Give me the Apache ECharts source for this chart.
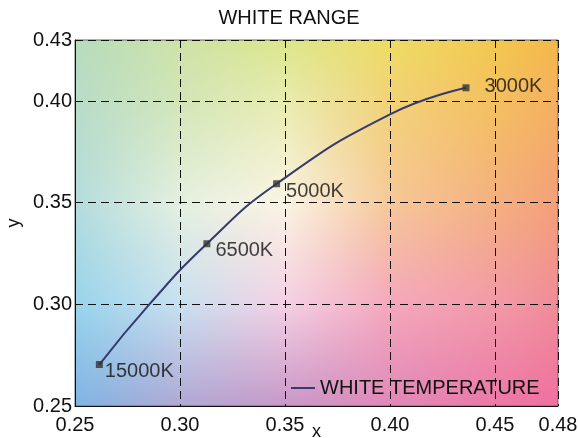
<!DOCTYPE html>
<html>
<head>
<meta charset="utf-8">
<script src="https://cdn.jsdelivr.net/npm/echarts@6/dist/echarts.min.js"></script>
<style>
  html, body { margin: 0; padding: 0; background: #fff; }
  #chart { width: 578px; height: 438px; }
</style>
</head>
<body>
<div id="chart"></div>
<script>
// named temperature points (x, y chromaticity)
const tempNames = ['15000K', '6500K', '5000K', '3000K'];
const tempX = [0.2616, 0.3128, 0.3460, 0.4362];
const tempY = [0.2704, 0.3298, 0.3593, 0.4065];

// points along the white temperature curve
const curveX = [0.2616, 0.2854, 0.3128, 0.3460, 0.4000, 0.4362];
const curveY = [0.2704, 0.3000, 0.3298, 0.3593, 0.3934, 0.4065];

const xMin = 0.25, xMax = 0.48, yMin = 0.25, yMax = 0.43;

// background colour samples (rows = y from top, cols = x)
const bgXs = [0.25, 0.30, 0.35, 0.40, 0.45, 0.48];
const bgYs = [0.43, 0.40, 0.35, 0.30, 0.25];
const bgColors = [
  ['#b6dcbc', '#cde3a8', '#dce68c', '#eedc64', '#f2c850', '#f4b848'],
  ['#b8dcc8', '#d2e6b8', '#e8ecb0', '#f2d278', '#f4c060', '#f4b060'],
  ['#b4dcdc', '#e4f0e0', '#fbf4e4', '#f6c898', '#f4b080', '#f4a078'],
  ['#98d4ec', '#c8e0f0', '#f4d0e4', '#f4a8bc', '#f29aa8', '#f08c98'],
  ['#80b4e4', '#b0a8d4', '#c898c8', '#e088b8', '#ec78a8', '#f070a0']
];

const gridBox = { left: 75, top: 40, width: 483, height: 366 };

function hexRgb(h) {
  return [parseInt(h.substr(1, 2), 16), parseInt(h.substr(3, 2), 16), parseInt(h.substr(5, 2), 16)];
}

// bilinear blend of the colour samples, painted to a canvas for the plot background
function makeBackground() {
  const w = gridBox.width, h = gridBox.height;
  const cv = document.createElement('canvas');
  cv.width = w; cv.height = h;
  const ctx = cv.getContext('2d');
  const img = ctx.createImageData(w, h);
  const rgb = bgColors.map(r => r.map(hexRgb));
  for (let py = 0; py < h; py++) {
    const y = yMax - (py + 0.5) / h * (yMax - yMin);
    let j = 0;
    while (j < bgYs.length - 2 && y < bgYs[j + 1]) j++;
    const ty = (bgYs[j] - y) / (bgYs[j] - bgYs[j + 1]);
    for (let px = 0; px < w; px++) {
      const x = xMin + (px + 0.5) / w * (xMax - xMin);
      let i = 0;
      while (i < bgXs.length - 2 && x > bgXs[i + 1]) i++;
      const tx = (x - bgXs[i]) / (bgXs[i + 1] - bgXs[i]);
      const k = (py * w + px) * 4;
      for (let c = 0; c < 3; c++) {
        const a = rgb[j][i][c] * (1 - tx) + rgb[j][i + 1][c] * tx;
        const b = rgb[j + 1][i][c] * (1 - tx) + rgb[j + 1][i + 1][c] * tx;
        img.data[k + c] = a * (1 - ty) + b * ty;
      }
      img.data[k + 3] = 255;
    }
  }
  ctx.putImageData(img, 0, 0);
  return cv;
}

const labelOffsets = [[2, 7], [5, 7], [6, 8], [15, -1]];

const chart = echarts.init(document.getElementById('chart'));
const font = 'Liberation Sans, Arial, sans-serif';

const option = {
  animation: false,
  textStyle: { fontFamily: font },
  title: {
    text: 'WHITE RANGE',
    left: 'center',
    top: 8,
    padding: 0,
    textStyle: { fontSize: 20, fontWeight: 'normal', color: '#111', fontFamily: font }
  },
  grid: {
    left: gridBox.left, top: gridBox.top,
    width: gridBox.width, height: gridBox.height,
    outerBoundsMode: 'none',
    containLabel: false,
    show: true, borderColor: '#666', borderWidth: 1
  },
  graphic: [{
    type: 'image',
    z: -10,
    silent: true,
    style: { image: makeBackground(), x: gridBox.left, y: gridBox.top, width: gridBox.width, height: gridBox.height }
  }],
  legend: {
    data: ['WHITE TEMPERATURE'],
    left: 291,
    top: 378,
    padding: 0,
    icon: 'rect',
    itemWidth: 24,
    itemHeight: 2,
    textStyle: { fontSize: 20, color: '#111', fontFamily: font }
  },
  xAxis: {
    type: 'value',
    min: xMin, max: xMax, interval: 0.05,
    name: 'x', nameLocation: 'middle', nameGap: 26,
    nameMoveOverlap: false,
    nameTextStyle: { fontSize: 18, color: '#111', verticalAlign: 'middle' },
    axisLine: { show: true, lineStyle: { color: '#111', width: 1 } },
    axisTick: { show: false },
    axisLabel: { fontSize: 20, color: '#111', margin: 9, formatter: v => v.toFixed(2) },
    splitLine: { show: true, lineStyle: { color: '#111', type: [8, 5], width: 1 } }
  },
  yAxis: {
    type: 'value',
    min: yMin, max: yMax, interval: 0.05,
    name: 'y', nameLocation: 'middle', nameGap: 52,
    nameMoveOverlap: false,
    nameTextStyle: { fontSize: 18, color: '#111' },
    axisLine: { show: true, lineStyle: { color: '#111', width: 1 } },
    axisTick: { show: false },
    axisLabel: { fontSize: 20, color: '#111', margin: 3, padding: [0, 0, 6, 0], formatter: v => v.toFixed(2) },
    splitLine: { show: true, lineStyle: { color: '#111', type: [8, 5], width: 1 } }
  },
  series: [
    {
      name: 'WHITE TEMPERATURE',
      type: 'line',
      smooth: 0.5,
      showSymbol: false,
      lineStyle: { color: '#363a6e', width: 2 },
      itemStyle: { color: '#363a6e' },
      data: curveX.map((x, i) => [x, curveY[i]])
    },
    {
      name: 'points',
      type: 'scatter',
      symbol: 'rect',
      symbolSize: 7,
      itemStyle: { color: '#333' },
      z: 5,
      data: tempNames.map((n, i) => ({
        value: [tempX[i], tempY[i]],
        name: n,
        label: {
          show: true, position: 'right', distance: 0, offset: labelOffsets[i],
          formatter: n, fontSize: 20, color: '#111', fontFamily: font
        }
      }))
    }
  ]
};
chart.setOption(option);
</script>
</body>
</html>
